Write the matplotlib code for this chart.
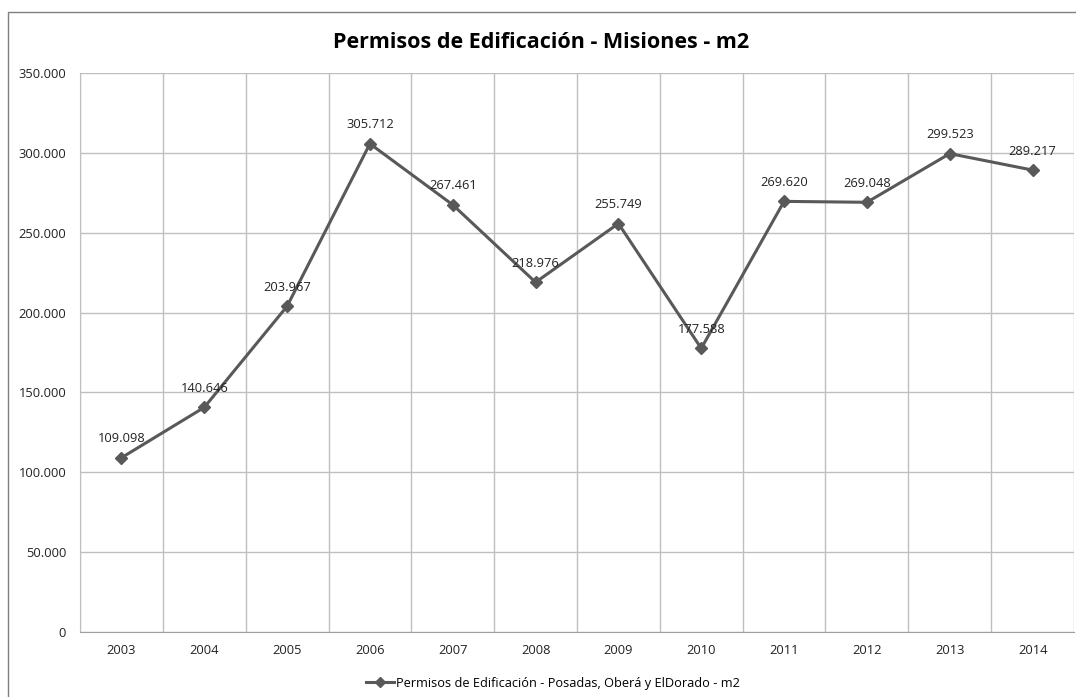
import numpy as np
from matplotlib import pyplot as plt
from matplotlib.lines import Line2D
from matplotlib.patches import Rectangle

years = ['2003', '2004', '2005', '2006', '2007', '2008',
         '2009', '2010', '2011', '2012', '2013', '2014']
values = [109098, 140646, 203967, 305712, 267461, 218976,
          255749, 177588, 269620, 269048, 299523, 289217]
y_ticks = [0, 50000, 100000, 150000, 200000, 250000, 300000, 350000]

LINE = '#595959'
GRID = '#bfbfbf'

plt.rcParams['font.family'] = ['Open Sans', 'DejaVu Sans']


def fmt(v):
    return '{:,}'.format(v).replace(',', '.')


def run():
    fig = plt.figure(figsize=(10.76, 6.97), dpi=100)
    ax = fig.add_axes([80 / 1076, 1 - 632 / 697, 994 / 1076, 559 / 697])

    x = np.arange(len(years))
    ax.plot(x, values, color=LINE, lw=2.2, marker='D', ms=6.5,
            mec=LINE, mfc=LINE, zorder=3)
    for xi, v in zip(x, values):
        ax.annotate(fmt(v), (xi, v), xytext=(0, 9), textcoords='offset points',
                    ha='center', va='bottom', fontsize=9.3, color='#222222')

    ax.set_xlim(-0.5, len(years) - 0.5)
    ax.set_ylim(0, 350000)
    ax.set_xticks(x)
    ax.set_xticklabels(years)
    ax.set_xticks(np.arange(-0.5, len(years)), minor=True)
    ax.set_yticks(y_ticks)
    ax.set_yticklabels([fmt(t) for t in y_ticks])
    ax.tick_params(axis='both', which='both', length=0, labelsize=9.3,
                   colors='#222222')
    ax.tick_params(axis='x', pad=9)
    ax.tick_params(axis='y', pad=10)
    ax.grid(axis='y', which='major', color=GRID, lw=1)
    ax.grid(axis='x', which='minor', color=GRID, lw=1)
    ax.grid(axis='x', which='major', visible=False)
    for s in ['top', 'right']:
        ax.spines[s].set_visible(False)
    ax.spines['left'].set_color(GRID)
    ax.spines['bottom'].set_color('#a0a0a0')

    fig.text(541 / 1076, 1 - 42 / 697, 'Permisos de Edificación - Misiones - m2',
             ha='center', va='center', fontsize=15.5, fontweight='bold')

    handle = Line2D([], [], color=LINE, lw=2.2, marker='D', ms=5, mfc=LINE, mec=LINE)
    fig.legend([handle], ['Permisos de Edificación - Posadas, Oberá y ElDorado - m2'],
               loc='center', bbox_to_anchor=(553 / 1076, 1 - 683 / 697),
               frameon=False, fontsize=9.2, handlelength=2.2, handletextpad=0.2)

    fig.add_artist(Rectangle((8 / 1076, -0.05), 1.2, 1 - 12 / 697 + 0.05,
                             transform=fig.transFigure, fill=False,
                             ec='#7f7f7f', lw=1))

    fig.savefig('out.png', dpi=100)


if __name__ == '__main__':
    run()
